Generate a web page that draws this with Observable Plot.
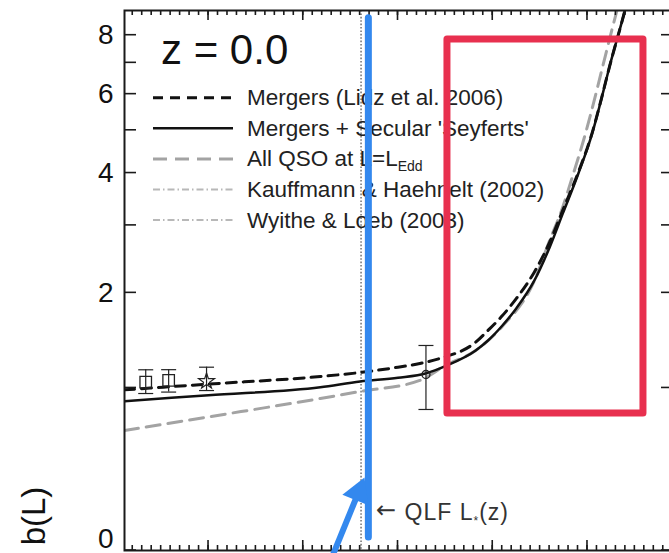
<!DOCTYPE html>
<html>
<head>
<meta charset="utf-8">
<script src="https://cdn.jsdelivr.net/npm/d3@7"></script>
<script src="https://cdn.jsdelivr.net/npm/@observablehq/plot@0.6"></script>
<style>
  body { margin: 0; background: #fff; }
  #fig { position: relative; width: 669px; height: 553px; overflow: hidden;
         font-family: "Liberation Sans", Arial, Helvetica, sans-serif; }
  #fig > svg { position: absolute; left: 0; top: 0; }
</style>
</head>
<body>
<div id="fig"></div>
<script>
// Quasar clustering bias b(L) at z = 0 versus log luminosity.

// Mergers (Lidz et al. 2006)
const mergersLum  = [9.113, 10.0, 11.18, 11.6, 12.0, 12.23, 12.44, 12.82, 12.95, 13.1, 13.25, 13.44, 13.6, 13.74, 13.9, 14.05, 14.15, 14.23, 14.39, 14.45];
const mergersBias = [0.984, 1.033, 1.100, 1.136, 1.185, 1.220, 1.268, 1.431, 1.556, 1.72, 1.93, 2.28, 2.72, 3.27, 4.0, 4.94, 5.9, 6.84, 8.92, 9.9];

// Mergers + secular "Seyferts"
const secularLum  = [9.113, 10.0, 11.18, 11.6, 12.0, 12.3, 12.5, 12.82, 12.95, 13.1, 13.25, 13.44, 13.6, 13.74, 13.9, 14.05, 14.15, 14.23, 14.39, 14.45];
const secularBias = [0.890, 0.939, 1.006, 1.056, 1.089, 1.13, 1.195, 1.346, 1.448, 1.607, 1.81, 2.163, 2.64, 3.21, 3.97, 4.92, 5.89, 6.84, 8.92, 9.9];

// All QSOs radiating at the Eddington limit
const eddLum  = [9.113, 10.0, 11.18, 11.6, 12.23, 12.5, 12.82, 13.1, 13.44, 13.6, 13.715, 13.85, 13.979, 14.07, 14.158, 14.306, 14.37];
const eddBias = [0.668, 0.768, 0.912, 0.970, 1.065, 1.201, 1.346, 1.60, 2.16, 2.75, 3.209, 3.98, 4.92, 5.8, 6.844, 8.92, 9.9];

// Measured clustering with error bars
const obsLum    = [9.337, 9.579, 9.979, 12.295];
const obsBias   = [1.050, 1.065, 1.058, 1.118];
const obsLow    = [0.953, 0.965, 0.978, 0.8245];
const obsHigh   = [1.161, 1.162, 1.185, 1.397];
const obsSymbol = ["square", "square", "star", "circle"];

// Break luminosity of the quasar luminosity function
const qlfLstar = 11.61;
const qlfText = "← QLF L*(z)";
const qlfTextBias = 0.176;

// Axis ticks
const yTicks = [0, 1, 2, 3, 4, 5, 6, 7, 8];
const yLabelTicks = [2, 4, 6, 8];
const xMajor = [10, 11, 12, 13, 14];
const xMinor = d3.range(92, 150).map(d => d / 10);

// Legend
const legendLabels = [["Mergers (Lidz et al. 2006)"], ["Mergers + Secular 'Seyferts'"], ["All QSO at L=L", "Edd"], ["Kauffmann & Haehnelt (2002)"], ["Wyithe & Loeb (2003)"]];
const legendStroke = ["#111", "#111", "#a3a3a3", "#b8b8b8", "#b8b8b8"];
const legendDash   = ["10,7", null, "14,8", "7,3,1.5,3", "7,3,1.5,3"];
const legendWidth  = [3, 2.5, 3, 2, 2];

// Highlight annotations
const marker    = {x: 11.687, y1: 8.67, y2: 0.057};
const pointer   = {x1: 11.302, y1: -0.03, x2: 11.582, y2: 0.2806};
const highlight = {x1: 12.522, x2: 14.591, y1: 0.7937, y2: 7.838};

const zip = (xs, ys) => xs.map((x, i) => ({lum: x, bias: ys[i]}));
const mergers = zip(mergersLum, mergersBias);
const secular = zip(secularLum, secularBias);
const edd = zip(eddLum, eddBias);
const obs = obsLum.map((x, i) => ({lum: x, bias: obsBias[i], lo: obsLow[i], hi: obsHigh[i], symbol: obsSymbol[i]}));

const font = '"Liberation Sans", Arial, Helvetica, sans-serif';
const W = 680, H = 553, ML = 124, MR = 7, MT = 10, MB = 3;
const xDomain = [9.113, 14.908];
const frame = {
  width: W, height: H,
  marginLeft: ML, marginRight: MR, marginTop: MT, marginBottom: MB,
  x: {domain: xDomain, axis: null},
  y: {type: "symlog", constant: 1, domain: [0, 9], axis: null},
  style: {fontFamily: font, background: "transparent", maxWidth: "none", overflow: "visible", color: "#1a1a1a"}
};

// horizontal cap for error bars
const cap = {draw(ctx, size) { const r = Math.sqrt(size / Math.PI); ctx.moveTo(-r, 0); ctx.lineTo(r, 0); }};

const base = Plot.plot({
  ...frame,
  marks: [
    Plot.ruleX([qlfLstar], {stroke: "#7a7a7a", strokeWidth: 1.6, strokeDasharray: "1.6,1.8"}),
    Plot.line(edd, {x: "lum", y: "bias", stroke: "#a3a3a3", strokeWidth: 3, strokeDasharray: "14,8", curve: "monotone-x", clip: true}),
    Plot.line(mergers, {x: "lum", y: "bias", stroke: "#111", strokeWidth: 3, strokeDasharray: "10,7", curve: "monotone-x", clip: true}),
    Plot.line(secular, {x: "lum", y: "bias", stroke: "#111", strokeWidth: 2.5, curve: "monotone-x", clip: true}),
    Plot.ruleX(obs, {x: "lum", y1: "lo", y2: "hi", stroke: "#222", strokeWidth: 1.2}),
    Plot.dot(obs, {x: "lum", y: "hi", symbol: cap, r: 7.5, fill: "none", stroke: "#222", strokeWidth: 1.2}),
    Plot.dot(obs, {x: "lum", y: "lo", symbol: cap, r: 7.5, fill: "none", stroke: "#222", strokeWidth: 1.2}),
    Plot.dot(obs.filter(d => d.symbol === "square"), {x: "lum", y: "bias", symbol: "square", r: 6.5, fill: "none", stroke: "#222", strokeWidth: 1.3}),
    Plot.dot(obs.filter(d => d.symbol === "star"), {x: "lum", y: "bias", symbol: "star", r: 5, fill: "none", stroke: "#222", strokeWidth: 1.2}),
    Plot.dot(obs.filter(d => d.symbol === "circle"), {x: "lum", y: "bias", symbol: "circle", r: 4, fill: "none", stroke: "#222", strokeWidth: 1.3}),
    Plot.text([{x: qlfLstar, y: qlfTextBias, text: qlfText}], {x: "x", y: "y", text: "text", dx: 15, textAnchor: "start", fontSize: 23, fill: "#333"}),
    Plot.axisY(yLabelTicks, {anchor: "left", tickSize: 0, tickPadding: 11, fontSize: 28, label: null, fill: "#111", tickFormat: d3.format("d")}),
    Plot.axisY([0], {anchor: "left", tickSize: 0, tickPadding: 11, fontSize: 28, label: null, fill: "#111", dy: -11, tickFormat: d3.format("d")}),
    Plot.frame({stroke: "#1a1a1a", strokeWidth: 2})
  ]
});

// long arrow and subscript star in the L*(z) label
d3.select(base).selectAll("text").filter(function () { return this.textContent === qlfText; }).each(function () {
  const t = d3.select(this);
  t.text(null).attr("letter-spacing", 1);
  t.append("tspan").attr("font-family", "DejaVu Sans").attr("font-size", 24).attr("dy", -2).text("←");
  t.append("tspan").attr("dy", 2).text(" QLF L");
  t.append("tspan").attr("font-size", 12).attr("dy", 5).text("*");
  t.append("tspan").attr("dy", -5).text("(z)");
});

// legend, panel title, y label and inward frame ticks (placed with the plot's scales)
const sx = base.scale("x"), sy = base.scale("y");
const fx = d => sx.apply(d), fy = d => sy.apply(d);
const frameLeft = ML, frameRight = W - MR, frameTop = MT, frameBottom = H - MB;
const over = d3.create("svg").attr("width", 669).attr("height", 553)
  .style("font-family", font);

const tickLayer = over.append("g").attr("stroke", "#1a1a1a").attr("stroke-width", 1.6);
const yTickLen = 12, xMinorLen = 5, xMajorLen = 10;
[[frameLeft, yTickLen], [frameRight, -yTickLen]].forEach(([x0, len]) => {
  tickLayer.append("g").selectAll("line").data(yTicks).join("line")
    .attr("x1", x0).attr("x2", x0 + len).attr("y1", fy).attr("y2", fy);
});
[[frameBottom, -1], [frameTop, 1]].forEach(([y0, dir]) => {
  [[xMinor, xMinorLen], [xMajor, xMajorLen]].forEach(([vals, len]) => {
    tickLayer.append("g").selectAll("line").data(vals).join("line")
      .attr("x1", fx).attr("x2", fx).attr("y1", y0).attr("y2", y0 + dir * len);
  });
});

over.append("text").attr("x", 161).attr("y", 64).attr("font-size", 42).attr("fill", "#111").text("z = 0.0");
over.append("text").attr("transform", "translate(45,516) rotate(-90)").attr("text-anchor", "middle")
  .attr("font-size", 33).attr("fill", "#111").text("b(L)");
legendLabels.forEach((parts, i) => {
  const y = 97.7 + i * 30.6;
  over.append("line").attr("x1", 153).attr("x2", 233).attr("y1", y).attr("y2", y)
    .attr("stroke", legendStroke[i]).attr("stroke-width", legendWidth[i])
    .attr("stroke-dasharray", legendDash[i]);
  const t = over.append("text").attr("x", 247).attr("y", y + 7.5).attr("font-size", 22.5).attr("fill", "#222");
  t.append("tspan").text(parts[0]);
  if (parts[1]) t.append("tspan").attr("dy", 5).attr("font-size", 14).text(parts[1]);
});

const notes = Plot.plot({
  ...frame,
  marks: [
    Plot.ruleX([marker], {x: "x", y1: "y1", y2: "y2", stroke: "#3388ee", strokeWidth: 7, strokeLinecap: "round"}),
    Plot.link([pointer], {x1: "x1", y1: "y1", x2: "x2", y2: "y2", stroke: "#3388ee", strokeWidth: 6}),
    Plot.dot([pointer], {x: "x2", y: "y2", symbol: "triangle", r: 10.4, fill: "#3388ee", stroke: "none", rotate: 22}),
    Plot.rect([highlight], {x1: "x1", x2: "x2", y1: "y1", y2: "y2", fill: "none", stroke: "#e8304f", strokeWidth: 7, strokeLinejoin: "round"})
  ]
});

const fig = document.getElementById("fig");
fig.append(base, over.node(), notes);
</script>
</body>
</html>
